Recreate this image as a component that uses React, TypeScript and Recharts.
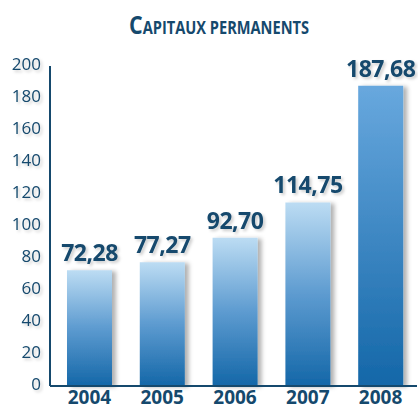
import { Bar, BarChart, Cell, LabelList, XAxis, YAxis } from "recharts";

const years = ["2004", "2005", "2006", "2007", "2008"];
const values = [72.28, 77.27, 92.7, 114.75, 187.68];
const valueLabels = ["72,28", "77,27", "92,70", "114,75", "187,68"];
const yTicks = [0, 20, 40, 60, 80, 100, 120, 140, 160, 180, 200];

const data = years.map((year, i) => ({ year, value: values[i], label: valueLabels[i] }));

const navy = "#15496d";
const font = "'Open Sans', 'DejaVu Sans', sans-serif";

const YTick = (props: any) => {
  const { y, payload } = props;
  return (
    <text x={41} y={y} dy={-3} textAnchor="end" dominantBaseline="central" fill={navy} fontSize={17} fontFamily={font} filter="url(#txtShadow)">
      {payload.value}
    </text>
  );
};

const XTick = (props: any) => {
  const { x, payload } = props;
  return (
    <text x={x} y={404} textAnchor="middle" fill={navy} fontSize={19} fontWeight={700} fontFamily={font}>
      {payload.value}
    </text>
  );
};

const ValueLabel = (props: any) => {
  const { x, y, width, index } = props;
  return (
    <text x={x + width / 2} y={y - 9} textAnchor="middle" fill={navy} fontSize={23} fontWeight={700} fontFamily={font} letterSpacing={-0.5} filter="url(#txtShadow)">
      {valueLabels[index]}
    </text>
  );
};

export default function App() {
  return (
    <div style={{ position: "absolute", left: 0, top: 0, width: 418, height: 410, background: "#fff" }}>
      <svg width={418} height={50} style={{ position: "absolute", left: 0, top: 0 }}>
        <text x={219} y={34} textAnchor="middle" fill={navy} fontFamily={font} fontWeight={700} textLength={180} lengthAdjust="spacingAndGlyphs">
          <tspan fontSize={25}>C</tspan>
          <tspan fontSize={17}>APITAUX PERMANENTS</tspan>
        </text>
      </svg>
      <BarChart width={418} height={410} data={data} margin={{ top: 66, right: 1, bottom: 0, left: 0 }}>
        <defs>
          <linearGradient id="barGrad" x1="0" y1="0" x2="0" y2="1">
            <stop offset="0%" stopColor="#bcdcf3" />
            <stop offset="50%" stopColor="#5d9bd0" />
            <stop offset="100%" stopColor="#1467a8" />
          </linearGradient>
          <linearGradient id="barGradTall" x1="0" y1="0" x2="0" y2="1">
            <stop offset="0%" stopColor="#68a8de" />
            <stop offset="100%" stopColor="#1467a8" />
          </linearGradient>
          <filter id="barShadow" x="-20%" y="-10%" width="150%" height="120%">
            <feDropShadow dx={4} dy={1} stdDeviation={2} floodColor="#000" floodOpacity={0.3} />
          </filter>
          <filter id="txtShadow" x="-20%" y="-30%" width="150%" height="180%">
            <feDropShadow dx={2} dy={2} stdDeviation={1.5} floodColor="#000" floodOpacity={0.2} />
          </filter>
        </defs>
        <YAxis
          width={50}
          domain={[0, 200]}
          ticks={yTicks}
          interval={0}
          tickLine={false}
          axisLine={{ stroke: navy, strokeWidth: 2 }}
          tick={<YTick />}
        />
        <XAxis
          dataKey="year"
          height={24}
          padding={{ left: 3, right: 0 }}
          tickLine={false}
          axisLine={{ stroke: navy, strokeWidth: 2 }}
          tick={<XTick />}
        />
        <Bar dataKey="value" barSize={45} fill="url(#barGrad)" filter="url(#barShadow)" isAnimationActive={false}>
          {data.map((d, i) => (
            <Cell key={d.year} fill={i === data.length - 1 ? "url(#barGradTall)" : "url(#barGrad)"} />
          ))}
          <LabelList dataKey="label" content={<ValueLabel />} />
        </Bar>
      </BarChart>
    </div>
  );
}
